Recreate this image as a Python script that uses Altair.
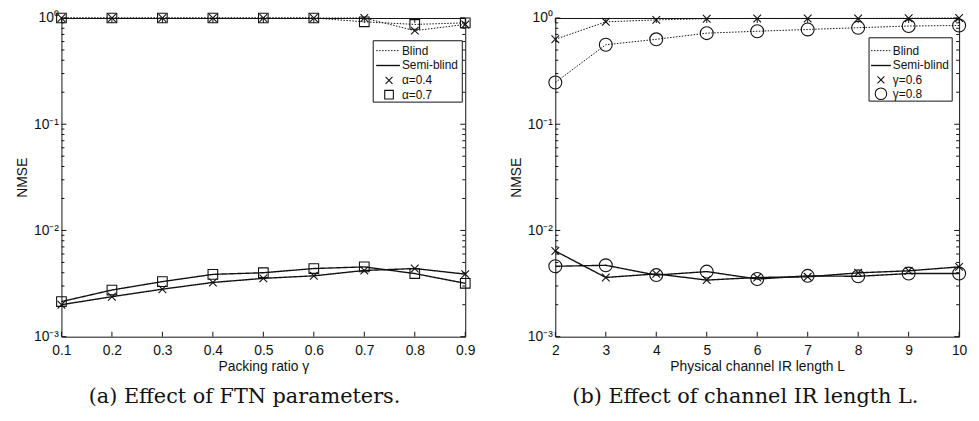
import altair as alt
import pandas as pd

# ---------------- data ----------------
GAMMA = [0.1, 0.2, 0.3, 0.4, 0.5, 0.6, 0.7, 0.8, 0.9]
BLIND_A04 = [1.0, 1.0, 1.0, 1.0, 1.0, 1.0, 1.0, 0.76, 0.87]
BLIND_A07 = [1.0, 1.0, 1.0, 1.0, 1.0, 1.0, 0.92, 0.87, 0.90]
SEMI_A04 = [2.0e-3, 2.38e-3, 2.8e-3, 3.24e-3, 3.54e-3, 3.74e-3, 4.2e-3, 4.38e-3, 3.88e-3]
SEMI_A07 = [2.14e-3, 2.75e-3, 3.3e-3, 3.86e-3, 4.0e-3, 4.38e-3, 4.54e-3, 3.93e-3, 3.18e-3]

L_VALS = [2, 3, 4, 5, 6, 7, 8, 9, 10]
BLIND_G06 = [0.63, 0.92, 0.96, 0.985, 0.99, 0.99, 0.99, 0.995, 1.0]
BLIND_G08 = [0.247, 0.56, 0.63, 0.72, 0.75, 0.78, 0.81, 0.84, 0.85]
SEMI_G06 = [6.4e-3, 3.61e-3, 3.9e-3, 3.41e-3, 3.61e-3, 3.66e-3, 3.99e-3, 4.17e-3, 4.54e-3]
SEMI_G08 = [4.6e-3, 4.7e-3, 3.8e-3, 4.1e-3, 3.49e-3, 3.74e-3, 3.7e-3, 3.93e-3, 3.93e-3]

METHODS = ["Blind", "Semi-blind"]
PARAMS_A = ["α=0.4", "α=0.7"]
PARAMS_B = ["γ=0.6", "γ=0.8"]

Y_MAJOR = [1e-3, 1e-2, 1e-1, 1.0]
Y_MAJOR_LABELS = ["10⁻³", "10⁻²", "10⁻¹", "10⁰"]
Y_MINOR = [m * d for d in [1e-3, 1e-2, 1e-1] for m in range(2, 10)]

TITLES_A = ("Packing ratio γ", "(a) Effect of FTN parameters.")
TITLES_B = ("Physical channel IR length L", "(b) Effect of channel IR length L.")

X_SHAPE = "M-1,-1L1,1M1,-1L-1,1"

W, H = 408, 322
SANS = "Liberation Sans"
INK = "#111"


def build_df(xs, series):
    rows = []
    for (method, param), vals in series.items():
        for x, v in zip(xs, vals):
            rows.append({"x": x, "y": v, "method": method, "param": param,
                         "series": method + " " + param})
    return pd.DataFrame(rows)


def one(label):
    return pd.DataFrame({"label": [label]})


def panel(xs, series, xdomain, xfmt, params, shapes, sizes, titles, legend_geom, cap_dx):
    df = build_df(xs, series)
    label_expr = " : ".join(
        f"datum.value < {v * 1.5} ? '{lab}'" for v, lab in zip(Y_MAJOR, Y_MAJOR_LABELS)
    ) + " : ''"
    common = dict(ticks=False, domain=False, grid=False, labelFlush=False,
                  labelFont=SANS, titleFont=SANS, labelFontSize=14, titleFontSize=14,
                  labelColor=INK, titleColor=INK, titleFontWeight="normal")
    x_enc = alt.X("x:Q", scale=alt.Scale(domain=xdomain, nice=False, zero=False),
                  axis=alt.Axis(values=xs, format=xfmt, title=titles[0],
                                labelPadding=7, titlePadding=2, **common))
    y_enc = alt.Y("y:Q", scale=alt.Scale(type="log", domain=[1e-3, 1], nice=False),
                  axis=alt.Axis(values=Y_MAJOR, labelExpr=label_expr, title="NMSE",
                                labelPadding=3, titlePadding=4, **common))

    base = alt.Chart(df)
    lines = base.mark_line(color=INK).encode(
        x=x_enc, y=y_enc, detail="series:N",
        strokeDash=alt.StrokeDash("method:N", scale=alt.Scale(domain=METHODS, range=[[1.5, 1.5], [1, 0]]), legend=None),
        strokeWidth=alt.StrokeWidth("method:N", scale=alt.Scale(domain=METHODS, range=[1.0, 1.4]), legend=None),
    )
    points = base.mark_point(filled=False, color=INK, strokeWidth=1.1, opacity=1).encode(
        x="x:Q", y="y:Q",
        shape=alt.Shape("param:N", scale=alt.Scale(domain=params, range=shapes), legend=None),
        size=alt.Size("param:N", scale=alt.Scale(domain=params, range=sizes), legend=None),
    )

    # inward ticks (MATLAB style)
    ymaj = pd.DataFrame({"y": Y_MAJOR})
    ymin = pd.DataFrame({"y": Y_MINOR})
    xt = pd.DataFrame({"x": xs})
    tk = dict(color=INK, strokeWidth=1)
    ticks = [
        alt.Chart(ymaj).mark_rule(**tk).encode(y="y:Q", x=alt.value(0), x2=alt.value(5)),
        alt.Chart(ymin).mark_rule(**tk).encode(y="y:Q", x=alt.value(0), x2=alt.value(3)),
        alt.Chart(ymaj).mark_rule(**tk).encode(y="y:Q", x=alt.value(W - 5), x2=alt.value(W)),
        alt.Chart(ymin).mark_rule(**tk).encode(y="y:Q", x=alt.value(W - 3), x2=alt.value(W)),
        alt.Chart(xt).mark_rule(**tk).encode(x="x:Q", y=alt.value(H - 5), y2=alt.value(H)),
        alt.Chart(xt).mark_rule(**tk).encode(x="x:Q", y=alt.value(0), y2=alt.value(5)),
    ]

    # legend box
    bx0, bx1, by0, by1, lx0, lx1, mx, tx, rows = legend_geom
    leg = [alt.Chart(one("box")).mark_rect(fill="white", stroke=INK, strokeWidth=1).encode(
        x=alt.value(bx0), x2=alt.value(bx1), y=alt.value(by0), y2=alt.value(by1))]
    leg.append(alt.Chart(one(METHODS[0])).mark_rule(color=INK, strokeWidth=1, strokeDash=[1.5, 1.5]).encode(
        x=alt.value(lx0), x2=alt.value(lx1), y=alt.value(rows[0])))
    leg.append(alt.Chart(one(METHODS[1])).mark_rule(color=INK, strokeWidth=1.4).encode(
        x=alt.value(lx0), x2=alt.value(lx1), y=alt.value(rows[1])))
    for i, p in enumerate(params):
        leg.append(alt.Chart(one(p)).mark_point(filled=False, color=INK, strokeWidth=1.1, opacity=1,
                                                 shape=shapes[i], size=sizes[i] * 0.8).encode(
            x=alt.value(mx), y=alt.value(rows[2 + i])))
    labels = METHODS + params
    for i, lab in enumerate(labels):
        leg.append(alt.Chart(one(lab)).mark_text(align="left", baseline="middle", font=SANS,
                                                  fontSize=12, color=INK).encode(
            text="label:N", x=alt.value(tx), y=alt.value(rows[i])))

    return alt.layer(*ticks, lines, points, *leg).properties(
        width=W, height=H,
        title=alt.TitleParams(text=titles[1], orient="bottom", anchor="middle",
                              font="DejaVu Serif", fontSize=21, fontWeight="normal",
                              color=INK, offset=13, dx=cap_dx),
    )


left = panel(
    GAMMA,
    {("Blind", PARAMS_A[0]): BLIND_A04, ("Blind", PARAMS_A[1]): BLIND_A07,
     ("Semi-blind", PARAMS_A[0]): SEMI_A04, ("Semi-blind", PARAMS_A[1]): SEMI_A07},
    [0.1, 0.9], ".1f", PARAMS_A, [X_SHAPE, "square"], [60, 95], TITLES_A,
    (315, 405, 23, 85, 318, 342, 331, 344, [33, 48, 63, 77.5]), -19,
)
right = panel(
    L_VALS,
    {("Blind", PARAMS_B[0]): BLIND_G06, ("Blind", PARAMS_B[1]): BLIND_G08,
     ("Semi-blind", PARAMS_B[0]): SEMI_G06, ("Semi-blind", PARAMS_B[1]): SEMI_G08},
    [2, 10], "d", PARAMS_B, [X_SHAPE, "circle"], [60, 170], TITLES_B,
    (317, 401, 20, 84, 319, 339, 329, 341, [33, 48, 62.5, 76.5]), -12,
)

chart = alt.hconcat(left, right, spacing=33).resolve_scale(
    x="independent", y="independent", shape="independent", size="independent",
    strokeDash="independent", strokeWidth="independent",
).configure_view(
    stroke=INK, strokeWidth=1
).properties(background="white", padding={"left": 7, "top": 0, "right": 2, "bottom": 2})

chart.save("out.html", embed_options={"renderer": "svg", "actions": False})
